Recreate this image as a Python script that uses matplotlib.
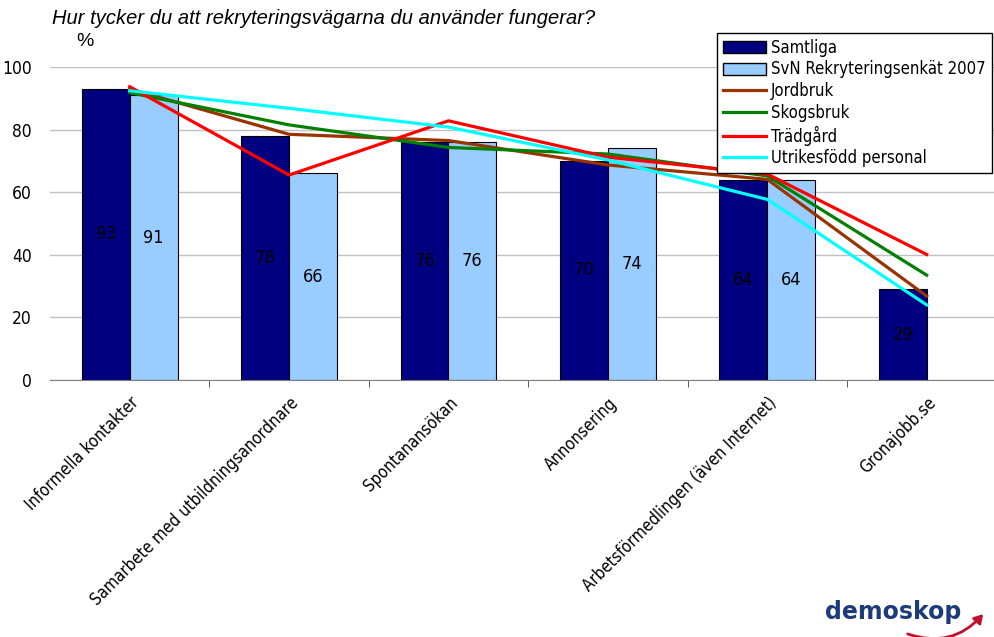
import matplotlib
matplotlib.use("Agg")
import matplotlib.pyplot as plt
import numpy as np
from matplotlib.patches import Patch, FancyArrowPatch
from matplotlib.lines import Line2D

categories = ["Informella kontakter", "Samarbete med utbildningsanordnare", "Spontanansökan",
              "Annonsering", "Arbetsförmedlingen (även Internet)", "Gronajobb.se"]
samtliga = [93, 78, 76, 70, 64, 29]
svn_2007 = [91, 66, 76, 74, 64, None]
jordbruk = [93, 78.5, 76.5, 68.7, 64.1, 26.8]
skogsbruk = [91.8, 81.5, 74.3, 72.2, 65.2, 33.5]
tradgard = [93.7, 65.5, 82.8, 71.2, 65.8, 40.1]
utrikes = [92.4, 86.8, 80.8, 70.3, 57.7, 24.0]
yticks = [0, 20, 40, 60, 80, 100]

# condensed face, close to the narrow font of the original
narrow = dict(family="DejaVu Sans", stretch="condensed")

fig = plt.figure(figsize=(9.95, 6.37), dpi=100)
ax = fig.add_axes([50 / 995, 1 - 380 / 637, 945 / 995, 313 / 637])

x = np.arange(len(categories))
w = 0.30
for i, v in enumerate(samtliga):
    ax.bar(x[i] - w / 2, v, w, color="#000080", edgecolor="black", lw=0.8, zorder=2)
    ax.text(x[i] - w / 2, v / 2, f"{v}", ha="center", va="center", fontsize=13,
            color="black", zorder=5, **narrow)
for i, v in enumerate(svn_2007):
    if v is None:
        continue
    ax.bar(x[i] + w / 2, v, w, color="#99CCFF", edgecolor="black", lw=0.8, zorder=2)
    ax.text(x[i] + w / 2, v / 2, f"{v}", ha="center", va="center", fontsize=13,
            color="black", zorder=5, **narrow)

series = [(jordbruk, "#993300"), (skogsbruk, "#008000"), (tradgard, "#FF0000"), (utrikes, "#00FFFF")]
for vals, col in series:
    ax.plot(x, vals, color=col, lw=2.3, zorder=4)

ax.set_xlim(-0.5, -0.5 + 945 / 159.4)
ax.set_ylim(0, 100)
ax.set_yticks(yticks)
ax.set_yticklabels([str(t) for t in yticks], fontsize=12.5, **narrow)
ax.tick_params(axis="y", length=0, pad=13)
ax.yaxis.grid(True, color="#c0c0c0", lw=1, zorder=0)
ax.set_axisbelow(True)

ax.set_xticks(x)
ax.set_xticklabels(categories, rotation=45, ha="right", rotation_mode="anchor",
                   fontsize=12, **narrow)
ax.tick_params(axis="x", length=0, pad=10)
ax.set_xticks(x[:-1] + 0.5, minor=True)
ax.tick_params(axis="x", which="minor", length=5, direction="out", color="#404040")

for s in ["top", "right", "left"]:
    ax.spines[s].set_visible(False)
ax.spines["bottom"].set_color("#808080")

fig.text(52 / 995, 1 - 18 / 637, "Hur tycker du att rekryteringsvägarna du använder fungerar?",
         fontsize=14.5, style="italic", family="Liberation Sans", va="center")
fig.text(76 / 995, 1 - 42 / 637, "%", fontsize=14, family="Liberation Sans", va="center")

handles = [Patch(facecolor="#000080", edgecolor="black", label="Samtliga"),
           Patch(facecolor="#99CCFF", edgecolor="black", label="SvN Rekryteringsenkät 2007"),
           Line2D([0], [0], color="#993300", lw=2.3, label="Jordbruk"),
           Line2D([0], [0], color="#008000", lw=2.3, label="Skogsbruk"),
           Line2D([0], [0], color="#FF0000", lw=2.3, label="Trädgård"),
           Line2D([0], [0], color="#00FFFF", lw=2.3, label="Utrikesfödd personal")]
leg = fig.legend(handles=handles, loc="upper left", bbox_to_anchor=(717 / 995, 1 - 33 / 637),
                 frameon=True, fancybox=False, edgecolor="black", framealpha=1,
                 prop=dict(size=12, **narrow), labelspacing=0.22,
                 handlelength=2.6, handleheight=0.75, handletextpad=0.3, borderpad=0.35,
                 borderaxespad=0)
leg.get_frame().set_linewidth(1.0)

# demoskop logo
fig.text(893 / 995, 1 - 612 / 637, "demoskop", fontsize=17, weight="bold",
         color="#1d3a7a", ha="center", va="center", family="DejaVu Sans")
arrow = FancyArrowPatch((905 / 995, 1 - 633 / 637), (985 / 995, 1 - 612 / 637),
                        transform=fig.transFigure, connectionstyle="arc3,rad=0.35",
                        arrowstyle="-|>,head_length=5,head_width=3", color="#c0102a", lw=2)
fig.add_artist(arrow)

fig.savefig("out.png", dpi=100)
